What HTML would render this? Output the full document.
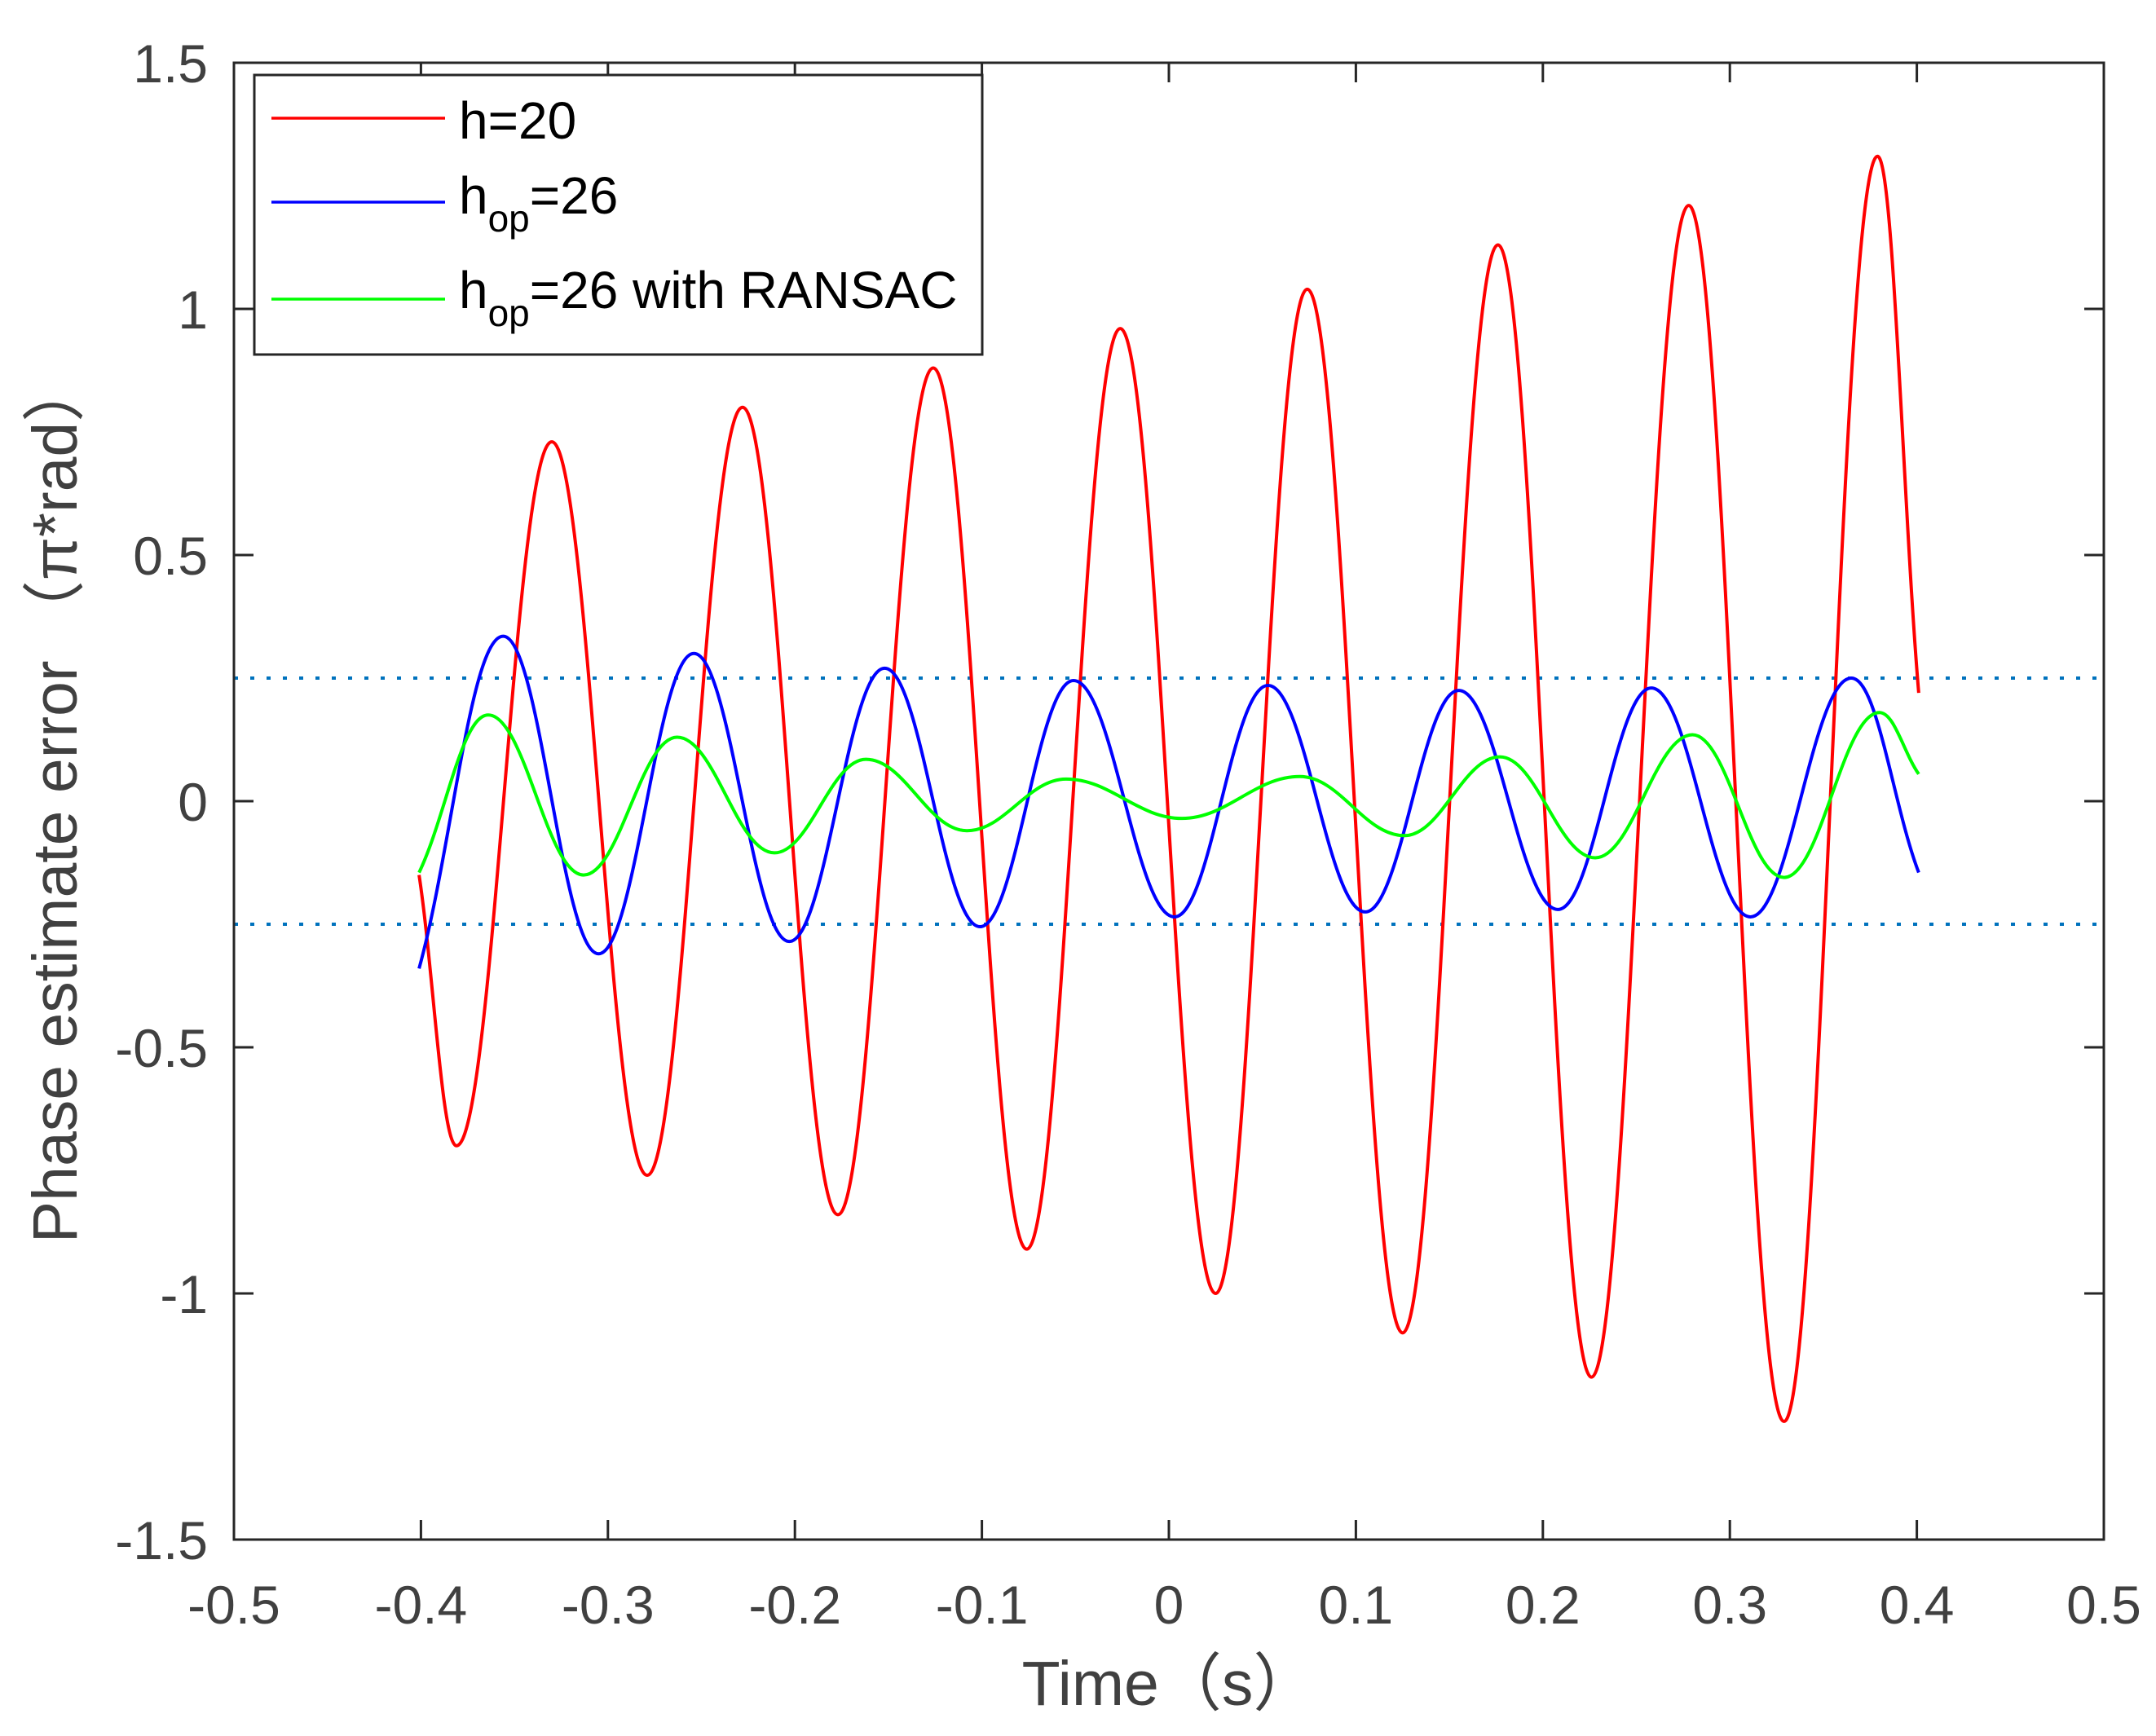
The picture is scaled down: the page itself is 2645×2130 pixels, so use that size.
<!DOCTYPE html>
<html><head><meta charset="utf-8"><style>
html,body{margin:0;padding:0;background:#fff}
svg{display:block}
text{font-family:"Liberation Sans","Noto Sans CJK SC",sans-serif}
</style></head><body>
<svg id="chart" width="2645" height="2130" viewBox="0 0 2645 2130" xmlns="http://www.w3.org/2000/svg">
<rect width="2645" height="2130" fill="#fff"/>
<g id="plot"></g>
<g id="axes"></g>
<g id="legend">
  <rect x="312" y="92" width="893" height="343" fill="#fff" stroke="#262626" stroke-width="3"/>
  <line x1="333" y1="145" x2="546" y2="145" stroke="#ff0000" stroke-width="3.5"/>
  <text x="563" y="170" font-size="64" fill="#000">h=20</text>
  <line x1="333" y1="248" x2="546" y2="248" stroke="#0000ff" stroke-width="3.5"/>
  <text x="563" y="262" font-size="64" fill="#000">h<tspan font-size="46" dy="22">op</tspan><tspan dy="-22">=26</tspan></text>
  <line x1="333" y1="367" x2="546" y2="367" stroke="#00ff00" stroke-width="3.5"/>
  <text x="563" y="378" font-size="64" fill="#000">h<tspan font-size="46" dy="22">op</tspan><tspan dy="-22">=26 with RANSAC</tspan></text>
</g>
<text x="1434" y="2092" font-size="77" fill="#404040" text-anchor="middle">Time（s）</text>
<text transform="translate(94,983) rotate(-90)" font-size="77" fill="#404040" text-anchor="middle">Phase estimate error （π*rad）</text>
</svg>
<script>
const xTicks = [-0.5,-0.4,-0.3,-0.2,-0.1,0,0.1,0.2,0.3,0.4,0.5];
const xTickLabels = ["-0.5","-0.4","-0.3","-0.2","-0.1","0","0.1","0.2","0.3","0.4","0.5"];
const yTicks = [-1.5,-1,-0.5,0,0.5,1,1.5];
const yTickLabels = ["-1.5","-1","-0.5","0","0.5","1","1.5"];
const thresholds = [0.25,-0.25];
const redT = [-0.401,-0.381,-0.330,-0.279,-0.228,-0.177,-0.126,-0.076,-0.026,0.025,0.074,0.125,0.176,0.226,0.278,0.329,0.379,0.401];
const redV = [-0.15,-0.70,0.73,-0.76,0.80,-0.84,0.88,-0.91,0.96,-1.00,1.04,-1.08,1.13,-1.17,1.21,-1.26,1.31,0.22];
const blueT = [-0.401,-0.356,-0.305,-0.254,-0.203,-0.152,-0.101,-0.051,0.003,0.053,0.105,0.155,0.208,0.258,0.311,0.365,0.401];
const blueV = [-0.34,0.335,-0.31,0.30,-0.285,0.27,-0.255,0.245,-0.235,0.235,-0.225,0.225,-0.22,0.23,-0.235,0.25,-0.145];
const greenT = [-0.401,-0.364,-0.313,-0.263,-0.211,-0.162,-0.108,-0.055,0.007,0.070,0.126,0.177,0.228,0.280,0.329,0.380,0.401];
const greenV = [-0.145,0.175,-0.15,0.13,-0.105,0.085,-0.06,0.045,-0.035,0.05,-0.07,0.09,-0.115,0.135,-0.155,0.18,0.055];

const L=287,R=2581,T=77,B=1889;
const sx=t=>L+(t+0.5)/1.0*(R-L);
const sy=v=>B-(v+1.5)/3.0*(B-T);
const NS="http://www.w3.org/2000/svg";
const plot=document.getElementById('plot'), axes=document.getElementById('axes');
function mk(tag,attrs,parent){const e=document.createElementNS(NS,tag);for(const k in attrs)e.setAttribute(k,attrs[k]);parent.appendChild(e);return e;}

thresholds.forEach((v,i)=>{
  const l=mk('line',{x1:L,x2:R,y1:sy(v),y2:sy(v),stroke:'#0072BD','stroke-width':4,'stroke-dasharray':'5 15'},plot);
  
  
});

function curve(ts,vs,color,name){
  let d='M'+sx(ts[0])+' '+sy(vs[0]);
  for(let i=1;i<ts.length;i++){
    const x0=sx(ts[i-1]),y0=sy(vs[i-1]),x1=sx(ts[i]),y1=sy(vs[i]);
    const dx=(x1-x0)/2.6;
    const c1y=(i===1)?y0+(y1-y0)*0.35:y0;
    const c2y=(i===ts.length-1)?y1-(y1-y0)*0.35:y1;
    d+=` C${x0+dx} ${c1y} ${x1-dx} ${c2y} ${x1} ${y1}`;
  }
  const p=mk('path',{d:d,fill:'none',stroke:color,'stroke-width':4,'stroke-linejoin':'round'},plot);
  
  
}
curve(redT,redV,'#ff0000','series-h20');
curve(blueT,blueV,'#0000ff','series-hop26');
curve(greenT,greenV,'#00ff00','series-hop26-ransac');

const frame=mk('rect',{x:L,y:T,width:R-L,height:B-T,fill:'none',stroke:'#262626','stroke-width':3},axes);


xTicks.forEach((t,i)=>{
  const x=sx(t);
  mk('line',{x1:x,x2:x,y1:B,y2:B-24,stroke:'#262626','stroke-width':3},axes);
  mk('line',{x1:x,x2:x,y1:T,y2:T+24,stroke:'#262626','stroke-width':3},axes);
  const tx=mk('text',{x:x,y:1992,'font-size':66,fill:'#404040','text-anchor':'middle'},axes);
  tx.textContent=xTickLabels[i];
  
  
});
yTicks.forEach((v,i)=>{
  const y=sy(v);
  mk('line',{x1:L,x2:L+24,y1:y,y2:y,stroke:'#262626','stroke-width':3},axes);
  mk('line',{x1:R,x2:R-24,y1:y,y2:y,stroke:'#262626','stroke-width':3},axes);
  const tx=mk('text',{x:255,y:y+24,'font-size':66,fill:'#404040','text-anchor':'end'},axes);
  tx.textContent=yTickLabels[i];
  
  
});
</script>
</body></html>
